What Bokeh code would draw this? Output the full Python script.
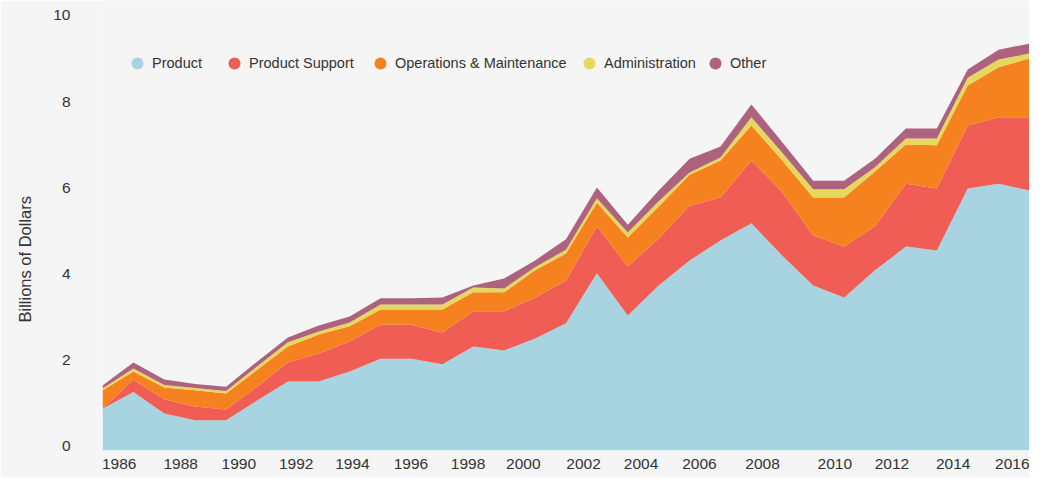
from bokeh.plotting import figure
from bokeh.models import (ColumnDataSource, Range1d, LinearAxis, FixedTicker,
                          Legend, LegendItem, Title)
from bokeh.embed import file_html
from bokeh.resources import INLINE

# ---- data (billions of dollars) ----
years = list(range(1986, 2017))
product = [0.97, 1.36, 0.86, 0.70, 0.70, 1.16, 1.60, 1.60, 1.83, 2.13, 2.13, 2.00, 2.41, 2.32, 2.60,
           2.95, 4.11, 3.13, 3.83, 4.41, 4.87, 5.27, 4.52, 3.83, 3.55, 4.18, 4.73, 4.64, 6.08, 6.19, 6.03]
support = [0.00, 0.28, 0.33, 0.32, 0.25, 0.32, 0.44, 0.65, 0.70, 0.79, 0.79, 0.74, 0.82, 0.91, 0.95,
           0.99, 1.09, 1.14, 1.09, 1.27, 1.00, 1.46, 1.47, 1.16, 1.18, 1.02, 1.46, 1.44, 1.46, 1.54, 1.70]
operations = [0.42, 0.19, 0.27, 0.38, 0.37, 0.39, 0.37, 0.44, 0.35, 0.35, 0.35, 0.53, 0.44, 0.44, 0.63,
              0.63, 0.55, 0.67, 0.74, 0.72, 0.86, 0.81, 0.74, 0.88, 1.14, 1.27, 0.91, 1.00, 0.93, 1.16, 1.37]
administration = [0.05, 0.07, 0.06, 0.05, 0.06, 0.08, 0.10, 0.07, 0.09, 0.12, 0.12, 0.12, 0.11, 0.09, 0.07,
                  0.09, 0.10, 0.12, 0.12, 0.05, 0.07, 0.19, 0.18, 0.19, 0.19, 0.10, 0.14, 0.16, 0.18, 0.18, 0.11]
other = [0.07, 0.14, 0.13, 0.09, 0.10, 0.11, 0.11, 0.14, 0.14, 0.14, 0.14, 0.16, 0.05, 0.23, 0.16,
         0.24, 0.25, 0.18, 0.25, 0.32, 0.25, 0.30, 0.24, 0.20, 0.20, 0.20, 0.23, 0.23, 0.19, 0.23, 0.23]

series_keys = ["product", "support", "operations", "administration", "other"]
series_names = ["Product", "Product Support", "Operations & Maintenance", "Administration", "Other"]
colors = ["#a8d3e0", "#f05d55", "#f5821f", "#e7d85d", "#ad627e"]

x_tick_labels = ["1986", "1988", "1990", "1992", "1994", "1996", "1998", "2000",
                 "2002", "2004", "2006", "2008", "2010", "2012", "2014", "2016"]
x_tick_positions = [1986.54, 1988.53, 1990.41, 1992.27, 1994.09, 1995.98, 1997.83, 1999.62,
                    2001.57, 2003.43, 2005.32, 2007.36, 2009.70, 2011.55, 2013.53, 2015.48]
y_ticks = [0, 2, 4, 6, 8, 10]

FONT = "Liberation Sans"
TXT = "#333333"
BG = "#f5f5f5"

source = ColumnDataSource(dict(year=years, product=product, support=support,
                               operations=operations, administration=administration,
                               other=other))

p = figure(width=1029, height=477, output_backend="svg", toolbar_location=None,
           x_range=Range1d(1986, 2016), y_range=Range1d(0, 10.44),
           y_axis_location=None,
           min_border_left=102, min_border_right=0, min_border_top=0, min_border_bottom=27)
p.background_fill_color = BG
p.border_fill_color = BG
p.outline_line_color = None
p.grid.visible = False

p.varea_stack(stackers=series_keys, x="year", color=colors, source=source)

# x axis
xa = p.xaxis[0]
xa.ticker = FixedTicker(ticks=x_tick_positions)
xa.major_label_overrides = {pos: lab for pos, lab in zip(x_tick_positions, x_tick_labels)}
xa.axis_line_color = None
xa.major_tick_line_color = None
xa.minor_tick_line_color = None
xa.major_tick_out = 0
xa.major_tick_in = 0
xa.minor_tick_out = 0
xa.major_label_standoff = 8
xa.major_label_text_font = FONT
xa.major_label_text_font_size = "15.5px"
xa.major_label_text_color = TXT

# y axis (labels sit slightly above their values, as in the reference)
p.extra_y_ranges = {"ax": Range1d(-0.093, 10.347)}
ya = LinearAxis(y_range_name="ax", ticker=FixedTicker(ticks=y_ticks))
ya.axis_line_color = None
ya.major_tick_line_color = None
ya.minor_tick_line_color = None
ya.major_tick_out = 0
ya.major_tick_in = 0
ya.minor_tick_out = 0
ya.major_label_standoff = 32
ya.major_label_text_font = FONT
ya.major_label_text_font_size = "15.5px"
ya.major_label_text_color = TXT
p.add_layout(ya, "left")

ytitle = Title(text="Billions of Dollars", align="left", offset=128, standoff=29,
               vertical_align="top",
               text_font=FONT, text_font_size="16.5px", text_font_style="normal",
               text_color=TXT)
p.add_layout(ytitle, "left")

# legends (one per entry to match the reference spacing)
legend_x = [20, 117, 263, 472, 598]
for key, name, col, lx in zip(series_keys, series_names, colors, legend_x):
    r = p.scatter(x="year", y=key, source=source, marker="circle", size=0,
                  color=col, line_color=None)
    lg = Legend(items=[LegendItem(label=name, renderers=[r])], location=(lx, 372),
                orientation="horizontal", glyph_width=30, glyph_height=30,
                label_standoff=-2, padding=0, margin=0, spacing=0,
                border_line_color=None, background_fill_alpha=0,
                label_text_font=FONT, label_text_font_size="14.5px",
                label_text_color=TXT)
    p.add_layout(lg, "center")

open("out.html", "w").write(file_html(p, INLINE))
